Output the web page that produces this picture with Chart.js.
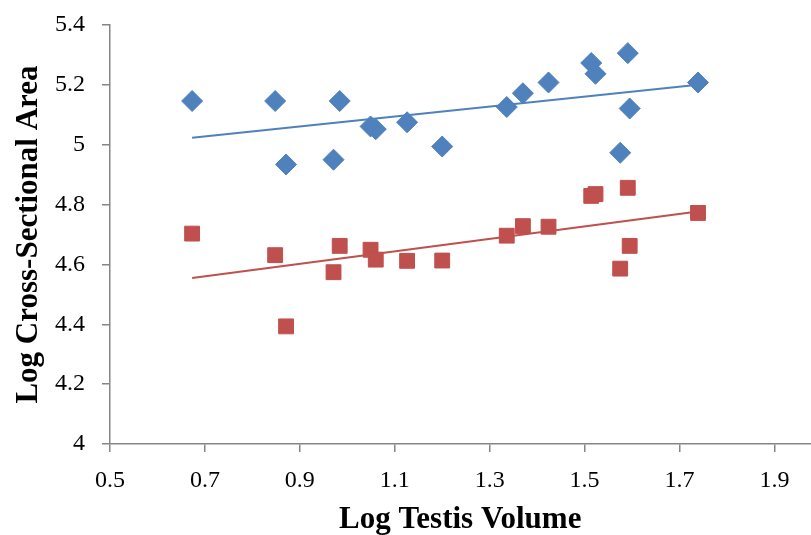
<!DOCTYPE html>
<html>
<head>
<meta charset="utf-8">
<script src="https://cdn.jsdelivr.net/npm/chart.js@4/dist/chart.umd.min.js"></script>
<style>
  html, body { margin: 0; padding: 0; background: #fff; overflow: hidden; }
  /* a little wider than the window: the x axis runs off the right edge like the reference */
  #wrap { width: 822px; height: 535px; position: relative; }
</style>
</head>
<body>
<div id="wrap"><canvas id="chart"></canvas></div>
<script>
/* ── Data ────────────────────────────────────────────────── */
const volumeX = [0.673, 0.848, 0.984, 0.871, 0.971, 1.049, 1.060, 1.126, 1.200,
                 1.336, 1.370, 1.424, 1.514, 1.523, 1.591, 1.595, 1.575, 1.739];
const blueArea = [5.146, 5.146, 5.146, 4.934, 4.950, 5.061, 5.052, 5.075, 4.994,
                  5.126, 5.172, 5.208, 5.273, 5.237, 5.306, 5.121, 4.973, 5.208];
const redArea  = [4.703, 4.631, 4.662, 4.393, 4.574, 4.649, 4.616, 4.612, 4.613,
                  4.696, 4.728, 4.726, 4.829, 4.835, 4.856, 4.662, 4.586, 4.772];

// trendline end points as drawn in the picture
const trendX    = [0.673, 1.739];
const blueTrend = [5.023, 5.200];
const redTrend  = [4.555, 4.777];

const xTicks = [0.5, 0.7, 0.9, 1.1, 1.3, 1.5, 1.7, 1.9];
const yTicks = [4, 4.2, 4.4, 4.6, 4.8, 5, 5.2, 5.4];

/* ── Styles ──────────────────────────────────────────────── */
const BLUE = '#4F81BD';
const RED  = '#C0504D';
const AXIS = '#868686';
const SERIF = "'Liberation Serif', 'DejaVu Serif', serif";

const pts = (xs, ys) => xs.map((x, i) => ({ x, y: ys[i] }));

new Chart(document.getElementById('chart'), {
  type: 'scatter',
  data: {
    datasets: [
      {
        data: pts(volumeX, blueArea),
        pointStyle: 'rectRot',
        pointRadius: 10.5,
        backgroundColor: BLUE,
        borderColor: BLUE,
        borderWidth: 1,
      },
      {
        data: pts(volumeX, redArea),
        pointStyle: 'rect',
        pointRadius: 10.5,
        backgroundColor: RED,
        borderColor: RED,
        borderWidth: 1,
      },
      {
        data: pts(trendX, blueTrend),
        showLine: true,
        pointRadius: 0,
        borderColor: BLUE,
        borderWidth: 2,
      },
      {
        data: pts(trendX, redTrend),
        showLine: true,
        pointRadius: 0,
        borderColor: RED,
        borderWidth: 2,
      },
    ],
  },
  options: {
    responsive: true,
    maintainAspectRatio: false,
    animation: false,
    layout: { padding: { left: 0, right: 0, top: 25, bottom: 0 } },
    plugins: { legend: { display: false }, tooltip: { enabled: false } },
    scales: {
      x: {
        type: 'linear',
        min: 0.5,
        max: 1.976,
        afterBuildTicks: s => { s.ticks = xTicks.map(v => ({ value: v })); },
        afterFit: s => { s.height = 91; },
        grid: {
          display: true,
          drawOnChartArea: false,
          drawTicks: true,
          tickLength: 8,
          color: AXIS,
          lineWidth: 1.5,
        },
        border: { display: true, color: AXIS, width: 1.5 },
        ticks: {
          color: '#000',
          padding: 14,
          maxRotation: 0,
          font: { family: SERIF, size: 24 },
          callback: v => String(v),
        },
        title: {
          display: true,
          text: 'Log Testis Volume',
          color: '#000',
          padding: { top: 0, bottom: -4 },
          font: { family: SERIF, size: 31, weight: 'bold' },
        },
      },
      y: {
        type: 'linear',
        min: 4,
        max: 5.4,
        afterBuildTicks: s => { s.ticks = yTicks.map(v => ({ value: v })); },
        // pin the plot top: no label overhang padding
        afterFit: s => { s.width = 110; s.paddingTop = 0; s.paddingBottom = 0; },
        grid: {
          display: true,
          drawOnChartArea: false,
          drawTicks: true,
          tickLength: 8,
          color: AXIS,
          lineWidth: 1.5,
        },
        border: { display: true, color: AXIS, width: 1.5 },
        ticks: {
          color: '#000',
          padding: 17,
          font: { family: SERIF, size: 24 },
          callback: v => String(v),
        },
        title: {
          display: true,
          text: 'Log Cross-Sectional Area',
          color: '#000',
          padding: { top: 10, bottom: 0 },
          font: { family: SERIF, size: 31, weight: 'bold' },
        },
      },
    },
  },
});
</script>
</body>
</html>
